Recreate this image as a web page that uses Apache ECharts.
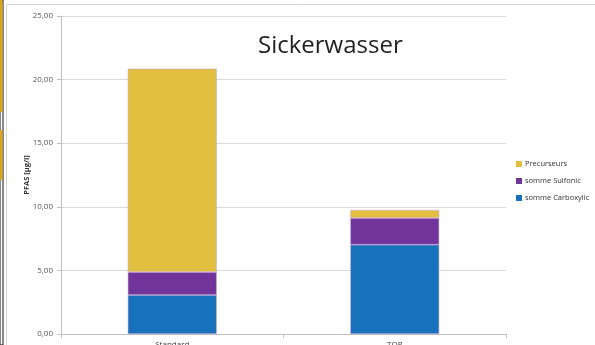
<!DOCTYPE html>
<html>
<head>
<meta charset="utf-8">
<script src="https://cdn.jsdelivr.net/npm/echarts@6/dist/echarts.min.js"></script>
<style>
  html, body { margin: 0; padding: 0; background: #fff; }
  #chart { width: 595px; height: 345px; }
</style>
</head>
<body>
<div id="chart"></div>
<script>
// Kategorien + Werte
const categories = ["Standard", "TOP"];
const carboxylic = [3.07, 7.02];
const sulfonic = [1.80, 2.10];
const precurseurs = [15.99, 0.63];
const yTicks = [0, 5, 10, 15, 20, 25];

const chart = echarts.init(document.getElementById("chart"));

function bar(name, data, color) {
  return {
    name: name,
    type: "bar",
    stack: "total",
    data: data,
    barWidth: "40%",
    itemStyle: {
      color: color,
      borderColor: "#c9a7d6", // duenner Rand wie in Excel
      borderWidth: 0.6
    }
  };
}

chart.setOption({
  animation: false,
  title: {
    text: "Sickerwasser",
    left: 253,
    top: 29,
    textStyle: { fontFamily: "Open Sans", fontSize: 24, fontWeight: "normal", color: "#222" }
  },
  legend: {
    orient: "vertical",
    left: 511,
    top: 155,
    itemWidth: 6,
    itemHeight: 6,
    itemGap: 9,
    icon: "rect",
    data: ["Precurseurs", "somme Sulfonic", "somme Carboxylic"],
    itemStyle: { borderWidth: 0 },
    textStyle: { fontFamily: "Open Sans", fontSize: 7.5, color: "#333", padding: [0, 0, 0, -2] }
  },
  grid: { left: 61, right: 89, top: 16, bottom: 11, outerBoundsMode: "none" },
  xAxis: {
    type: "category",
    data: categories,
    axisLine: { lineStyle: { color: "#bfbfbf" } },
    axisTick: { show: true, alignWithLabel: false, length: 4, lineStyle: { color: "#bfbfbf" } },
    axisLabel: { fontFamily: "Open Sans", fontSize: 8, color: "#444", margin: 7 }
  },
  yAxis: {
    type: "value",
    min: yTicks[0],
    max: yTicks[yTicks.length - 1],
    interval: 5,
    name: "PFAS [µg/l]",
    nameLocation: "middle",
    nameGap: 30,
    nameMoveOverlap: false,
    nameTextStyle: { fontFamily: "Open Sans", fontSize: 7.5, fontWeight: "bold", color: "#333" },
    axisLine: { show: true, lineStyle: { color: "#bfbfbf" } },
    axisTick: { show: true, length: 4, lineStyle: { color: "#bfbfbf" } },
    splitLine: { lineStyle: { color: "#d9d9d9" } },
    axisLabel: {
      fontFamily: "Open Sans",
      fontSize: 8,
      color: "#555",
      margin: 8,
      formatter: v => v.toFixed(2).replace(".", ",")
    }
  },
  graphic: [
    // Rahmen des Diagramms
    { type: "rect", shape: { x: 6.5, y: 4.5, width: 640, height: 400 }, style: { fill: "none", stroke: "#d4d4d4", lineWidth: 1 }, silent: true },
    // Tabellenrest links
    { type: "rect", shape: { x: 0, y: 0, width: 3, height: 345 }, style: { fill: "#fff", stroke: "#111", lineWidth: 1 }, silent: true },
    { type: "rect", shape: { x: 0, y: 0, width: 2.5, height: 112 }, style: { fill: "#d9a520" }, silent: true },
    { type: "rect", shape: { x: 0, y: 130, width: 2.5, height: 50 }, style: { fill: "#d9a520" }, silent: true }
  ],
  series: [
    bar("somme Carboxylic", carboxylic, "#1771bb"),
    bar("somme Sulfonic", sulfonic, "#70349a"),
    bar("Precurseurs", precurseurs, "#e3bf3f")
  ]
});
</script>
</body>
</html>
